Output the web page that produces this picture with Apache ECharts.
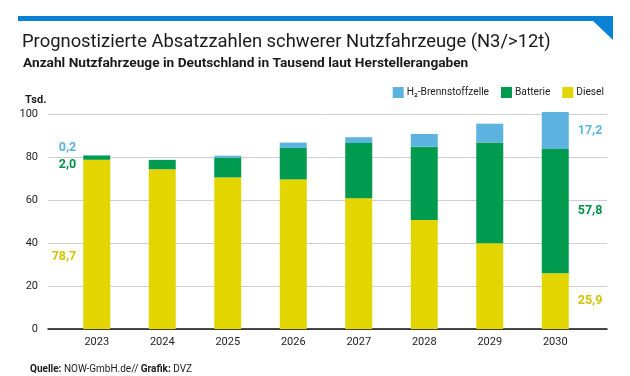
<!DOCTYPE html>
<html>
<head>
<meta charset="utf-8">
<script src="https://cdn.jsdelivr.net/npm/echarts@6/dist/echarts.min.js"></script>
<style>
  html, body { margin: 0; padding: 0; background: #fff; }
  #chart { width: 630px; height: 376px; }
</style>
</head>
<body>
<div id="chart"></div>
<script>
// Werte in Tausend
const years = ['2023', '2024', '2025', '2026', '2027', '2028', '2029', '2030'];
const diesel = [78.7, 74.3, 70.5, 69.6, 60.8, 50.7, 39.9, 25.9];
const batterie = [2.0, 4.3, 9.2, 14.6, 25.7, 34.1, 46.9, 57.8];
const wasserstoff = [0.2, 0.1, 0.9, 2.5, 2.7, 5.9, 8.7, 17.2];
const yTicks = [0, 20, 40, 60, 80, 100];

const cYellow = '#e2d500';
const cGreen = '#009b4e';
const cBlue = '#5cb3e0';

const fmt = v => v.toFixed(1).replace('.', ',');
const font = 'Roboto, "Noto Sans", sans-serif';

// nur erstes und letztes Jahr bekommen Beschriftungen
function withLabels(values, color, firstOffset) {
  return values.map((v, i) => {
    if (i === 0) {
      return { value: v, label: { show: true, position: 'left', distance: 7, offset: firstOffset,
        color: color, fontSize: 12.5, fontWeight: 'bold', fontFamily: font, formatter: p => fmt(p.value) } };
    }
    if (i === values.length - 1) {
      return { value: v, label: { show: true, position: 'right', distance: 9,
        color: color, fontSize: 12.5, fontWeight: 'bold', fontFamily: font, formatter: p => fmt(p.value) } };
    }
    return v;
  });
}

const chart = echarts.init(document.getElementById('chart'));

const option = {
  animation: false,
  textStyle: { fontFamily: font },
  title: [
    { text: 'Prognostizierte Absatzzahlen schwerer Nutzfahrzeuge (N3/>12t)', left: 17, top: 28,
      textStyle: { fontSize: 18.4, fontWeight: 'normal', color: '#1a1a1a', fontFamily: font } },
    { text: 'Anzahl Nutzfahrzeuge in Deutschland in Tausend laut Herstellerangaben', left: 18, top: 52,
      textStyle: { fontSize: 13.7, fontWeight: 'bold', color: '#1a1a1a', fontFamily: font } },
    { text: 'Tsd.', left: 20, top: 90,
      textStyle: { fontSize: 11, fontWeight: 'bold', color: '#1a1a1a', fontFamily: font } },
    { text: '{b|Quelle:} NOW-GmbH.de// {b|Grafik:} DVZ', left: 25, top: 359,
      textStyle: { fontSize: 10, fontWeight: 'normal', color: '#1a1a1a', fontFamily: font,
        rich: { b: { fontWeight: 'bold', fontSize: 10, fontFamily: font, color: '#1a1a1a' } } } }
  ],
  graphic: [
    { type: 'polygon', shape: { points: [[18, 16], [613, 16], [613, 40], [593, 21], [18, 21]] },
      style: { fill: '#0a82d4' } }
  ],
  legend: {
    data: ['H₂-Brennstoffzelle', 'Batterie', 'Diesel'],
    right: 21, top: 82,
    itemWidth: 11, itemHeight: 11, itemGap: 12,
    icon: 'rect',
    textStyle: { fontSize: 10.2, color: '#222', padding: [0, 0, 0, -2] }
  },
  // Gitter 0: Rasterlinien und Achsenlinie, Gitter 1: Balken
  grid: [
    { left: 48, right: 23, top: 114, bottom: 47 },
    { left: 64, right: 42, top: 114, bottom: 47 }
  ],
  xAxis: [
    { type: 'category', gridIndex: 0, data: years,
      axisLine: { lineStyle: { color: '#111', width: 1.5 } },
      axisTick: { show: false }, axisLabel: { show: false } },
    { type: 'category', gridIndex: 1, data: years,
      axisLine: { show: false }, axisTick: { show: false },
      axisLabel: { fontSize: 11, color: '#222', margin: 8 } }
  ],
  yAxis: [
    { type: 'value', gridIndex: 0, min: 0, max: 100, interval: 20,
      axisLabel: { fontSize: 11, color: '#222', margin: 10,
        formatter: v => yTicks.includes(v) ? String(v) : '' },
      splitLine: { lineStyle: { color: '#cfcfcf', width: 1 } } },
    { type: 'value', gridIndex: 1, min: 0, max: 100, interval: 20,
      axisLabel: { show: false }, splitLine: { show: false } }
  ],
  series: [
    { name: 'Diesel', type: 'bar', stack: 'a', barWidth: 27, clip: false, xAxisIndex: 1, yAxisIndex: 1,
      itemStyle: { color: cYellow }, data: withLabels(diesel, '#d2c400', [0, 12]) },
    { name: 'Batterie', type: 'bar', stack: 'a', barWidth: 27, clip: false, xAxisIndex: 1, yAxisIndex: 1,
      itemStyle: { color: cGreen }, data: withLabels(batterie, '#00924a', [0, 7]) },
    { name: 'H₂-Brennstoffzelle', type: 'bar', stack: 'a', barWidth: 27, clip: false, xAxisIndex: 1, yAxisIndex: 1,
      itemStyle: { color: cBlue }, data: withLabels(wasserstoff, cBlue, [0, -7]) }
  ]
};

chart.setOption(option);
</script>
</body>
</html>
